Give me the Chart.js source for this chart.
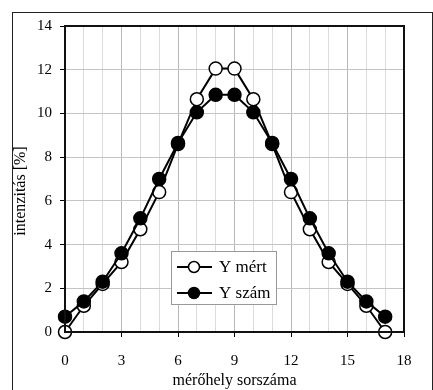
<!DOCTYPE html>
<html>
<head>
<meta charset="utf-8">
<script src="https://cdn.jsdelivr.net/npm/chart.js@4.4.0/dist/chart.umd.min.js"></script>
<style>
  html, body { margin: 0; padding: 0; background: #fff; }
  #wrap { width: 433px; height: 390px; }
</style>
</head>
<body>
<div id="wrap"><canvas id="myChart" width="433" height="390"></canvas></div>
<script>
// mérőhely sorszáma
const helyek = [0, 1, 2, 3, 4, 5, 6, 7, 8, 9, 10, 11, 12, 13, 14, 15, 16, 17];
// mért intenzitás [%]
const yMert = [0, 1.2, 2.2, 3.2, 4.7, 6.4, 8.6, 10.65, 12.05, 12.05, 10.65, 8.6, 6.4, 4.7, 3.2, 2.2, 1.2, 0];
// számított intenzitás [%]
const ySzam = [0.7, 1.4, 2.3, 3.6, 5.2, 7.0, 8.65, 10.05, 10.85, 10.85, 10.05, 8.65, 7.0, 5.2, 3.6, 2.3, 1.4, 0.7];
const xTicks = [0, 3, 6, 9, 12, 15, 18];
const yTicks = [0, 2, 4, 6, 8, 10, 12, 14];
const sorozatok = ['Y mért', 'Y szám'];
const yCim = 'intenzitás [%]';

const serif = "'Liberation Serif', 'Times New Roman', serif";

const toPoints = (ys) => helyek.map((x, i) => ({ x: x, y: ys[i] }));

// keret a kép körül, doboz a rajzterület körül, y tengely felirat, jelmagyarázat
const keret = {
  id: 'keret',
  beforeDraw(chart) {
    const ctx = chart.ctx;
    ctx.save();
    ctx.fillStyle = '#fff';
    ctx.fillRect(0, 0, chart.width, chart.height);
    ctx.strokeStyle = '#222';
    ctx.lineWidth = 1;
    ctx.strokeRect(12.5, 12.5, 420, 400);
    ctx.restore();
  },
  afterDatasetsDraw(chart) {
    const ctx = chart.ctx;
    const a = chart.chartArea;
    ctx.save();
    ctx.strokeStyle = '#111';
    ctx.lineWidth = 2;
    ctx.strokeRect(a.left, a.top, a.right - a.left, a.bottom - a.top);
    ctx.restore();
  },
  afterDraw(chart) {
    const ctx = chart.ctx;
    ctx.save();
    // y tengely címe, kicsit a közép alatt
    ctx.translate(21, 191);
    ctx.rotate(-Math.PI / 2);
    ctx.font = '16px ' + serif;
    ctx.fillStyle = '#000';
    ctx.textAlign = 'center';
    ctx.textBaseline = 'middle';
    ctx.fillText(yCim, 0, 0);
    ctx.restore();

    const bx = 171, by = 251, bw = 105, bh = 53;
    ctx.save();
    ctx.fillStyle = '#fff';
    ctx.fillRect(bx, by, bw, bh);
    ctx.strokeStyle = '#999';
    ctx.lineWidth = 1;
    ctx.strokeRect(bx + 0.5, by + 0.5, bw, bh);
    ctx.font = '17px ' + serif;
    ctx.textBaseline = 'middle';
    sorozatok.forEach((nev, i) => {
      const y = by + 16 + i * 26;
      ctx.strokeStyle = '#000';
      ctx.lineWidth = 2;
      ctx.beginPath();
      ctx.moveTo(bx + 6, y);
      ctx.lineTo(bx + 41, y);
      ctx.stroke();
      ctx.beginPath();
      ctx.arc(bx + 23, y, 5.5, 0, Math.PI * 2);
      ctx.fillStyle = i === 0 ? '#fff' : '#000';
      ctx.fill();
      ctx.lineWidth = 1.5;
      ctx.stroke();
      ctx.fillStyle = '#000';
      ctx.fillText(nev, bx + 48, y + 1);
    });
    ctx.restore();
  }
};

const data = {
  datasets: [{
    label: sorozatok[0],
    data: toPoints(yMert),
    borderColor: '#000',
    borderWidth: 2,
    pointBackgroundColor: '#fff',
    pointBorderColor: '#000',
    pointBorderWidth: 1.5,
    pointRadius: 6.5,
    order: 2,
    clip: false
  }, {
    label: sorozatok[1],
    data: toPoints(ySzam),
    borderColor: '#000',
    borderWidth: 2,
    pointBackgroundColor: '#000',
    pointBorderColor: '#000',
    pointBorderWidth: 1.5,
    pointRadius: 6.5,
    order: 1,
    clip: false
  }]
};

const config = {
  type: 'line',
  data,
  plugins: [keret],
  options: {
    responsive: false,
    animation: false,
    events: [],
    layout: { padding: { left: 0, right: 29, top: 26, bottom: 0 } },
    plugins: { legend: { display: false }, tooltip: { enabled: false } },
    scales: {
      x: {
        type: 'linear',
        min: 0,
        max: 18,
        afterBuildTicks(axis) {
          axis.ticks = helyek.concat([18]).map(v => ({ value: v }));
        },
        afterFit(axis) { axis.height = 58; },
        ticks: {
          color: '#000',
          font: { family: serif, size: 15 },
          padding: 15,
          maxRotation: 0,
          autoSkip: false,
          callback: (v) => xTicks.includes(v) ? String(v) : ''
        },
        grid: {
          color: (c) => xTicks.includes(c.tick && c.tick.value) ? '#b8b8b8' : '#dcdcdc',
          tickColor: (c) => xTicks.includes(c.tick && c.tick.value) ? '#000' : 'rgba(0,0,0,0)',
          tickLength: 5,
          lineWidth: 1
        },
        border: { color: '#111', width: 2 },
        title: {
          display: true,
          text: 'mérőhely sorszáma',
          color: '#000',
          font: { family: serif, size: 16 },
          padding: { top: 0, bottom: 0 }
        }
      },
      y: {
        min: 0,
        max: 14,
        afterBuildTicks(axis) {
          axis.ticks = yTicks.map(v => ({ value: v }));
        },
        afterFit(axis) { axis.width = 65; },
        ticks: {
          color: '#000',
          font: { family: serif, size: 15 },
          padding: 8
        },
        grid: {
          color: '#c4c4c4',
          tickColor: '#000',
          tickLength: 5,
          lineWidth: 1
        },
        border: { color: '#111', width: 2 },
        title: { display: false }
      }
    }
  }
};

const myChart = new Chart(document.getElementById('myChart'), config);
</script>
</body>
</html>
